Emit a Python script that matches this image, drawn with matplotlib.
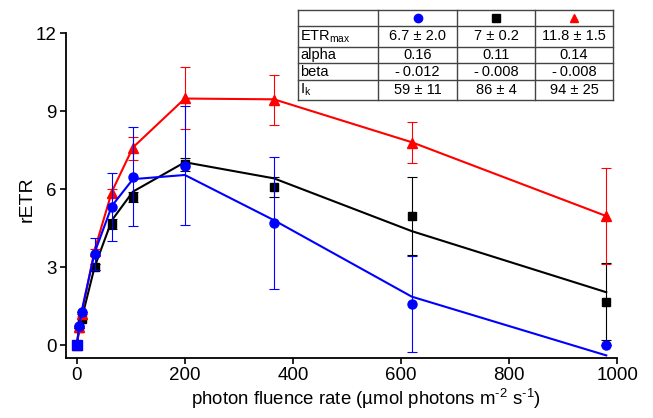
import numpy as np
import matplotlib
matplotlib.use('Agg')
import matplotlib.pyplot as plt

plt.rcParams['font.family'] = ['Liberation Sans', 'DejaVu Sans']
plt.rcParams['mathtext.fontset'] = 'custom'
plt.rcParams['mathtext.rm'] = 'Liberation Sans'
plt.rcParams['mathtext.it'] = 'Liberation Sans:italic'

# light levels (photon fluence rate)
x = [0, 4, 9, 33, 65, 104, 200, 365, 620, 980]

# measured rETR +/- sd
blue_y = [0, 0.73, 1.28, 3.5, 5.3, 6.48, 6.9, 4.7, 1.58, 0.0]
blue_err = [0, 0, 0, 0.6, 1.3, 1.9, 2.3, 2.54, 1.85, 0]
black_y = [0, 0.67, 0.99, 3.0, 4.65, 5.7, 6.95, 6.09, 4.97, 1.67]
black_err = [0, 0, 0, 0.1, 0.2, 0.2, 0.25, 0.38, 1.49, 1.47]
red_y = [0, 0.7, 1.2, 3.6, 5.86, 7.56, 9.49, 9.42, 7.78, 4.96]
red_err = [0, 0, 0, 0.1, 0.15, 0.43, 1.2, 0.97, 0.78, 1.86]

# fitted model curves at the same light levels
blue_fit = [0, 0.65, 1.3, 3.55, 5.35, 6.38, 6.54, 4.8, 1.86, -0.4]
black_fit = [0, 0.5, 1.0, 3.0, 4.8, 5.9, 7.03, 6.41, 4.38, 2.03]
red_fit = [0, 0.6, 1.2, 3.65, 5.9, 7.6, 9.48, 9.45, 7.8, 4.96]

# parameter table
row_labels = ['ETR$_{\\mathrm{max}}$', 'alpha', 'beta', 'I$_{\\mathrm{k}}$']
blue_par = ['6.7 \u00b1 2.0', '0.16', '-\u20090.012', '59 \u00b1 11']
black_par = ['7 \u00b1 0.2', '0.11', '-\u20090.008', '86 \u00b1 4']
red_par = ['11.8 \u00b1 1.5', '0.14', '-\u20090.008', '94 \u00b1 25']

BLUE = '#0000ff'
RED = '#ff0000'

fig = plt.figure(figsize=(6.53, 4.18), dpi=100)
ax = fig.add_axes([0.101, 0.1435, 0.844, 0.7775])

ax.plot(x, black_fit, color='k', lw=1.5, zorder=2)
ax.errorbar(x, black_y, yerr=black_err, fmt='none', ecolor='k', elinewidth=0.8,
            capsize=3.5, capthick=0.8, zorder=2)
ax.plot(x, black_y, 's', color='k', ms=6, zorder=3)

ax.plot(x, red_fit, color=RED, lw=1.5, zorder=4)
ax.errorbar(x, red_y, yerr=red_err, fmt='none', ecolor=RED, elinewidth=0.8,
            capsize=3.5, capthick=0.8, zorder=4)
ax.plot(x, red_y, '^', color=RED, ms=6.5, zorder=5)

ax.plot(x, blue_fit, color=BLUE, lw=1.5, zorder=6)
ax.errorbar(x, blue_y, yerr=blue_err, fmt='none', ecolor=BLUE, elinewidth=0.8,
            capsize=3.5, capthick=0.8, zorder=6)
ax.plot(x[1:], blue_y[1:], 'o', color=BLUE, ms=6.5, zorder=7)
ax.plot(x[:1], blue_y[:1], 's', color=BLUE, ms=6.5, zorder=7)

ax.set_xlim(-20, 1000)
ax.set_ylim(-0.5, 12)
ax.set_xticks([0, 200, 400, 600, 800, 1000])
ax.set_yticks([0, 3, 6, 9, 12])
for s in ['top', 'right']:
    ax.spines[s].set_visible(False)
for s in ['left', 'bottom']:
    ax.spines[s].set_linewidth(1.3)
ax.tick_params(direction='out', length=4.5, width=1.2, labelsize=13.5, pad=2)
ax.set_ylabel('rETR', fontsize=14)
ax.yaxis.set_label_coords(-0.055, 0.49)
ax.set_xlabel('photon fluence rate (\u00b5mol photons m$^{\\text{-2}}$ s$^{\\text{-1}}$)', fontsize=13.4)
ax.xaxis.set_label_coords(0.545, -0.09)

# table drawn in pixel-like coordinates
tx = fig.add_axes([298 / 653, 1 - 100 / 418, 315 / 653, 90 / 418])
tx.set_xlim(298, 613)
tx.set_ylim(100, 10)
tx.axis('off')
col_edges = [298, 378, 457, 535, 613]
row_edges = [10, 26, 47, 63, 80, 100]
for cx in col_edges:
    tx.plot([cx, cx], [10, 100], color='#444444', lw=1.0, clip_on=False)
for ry in row_edges:
    tx.plot([298, 613], [ry, ry], color='#444444', lw=1.0, clip_on=False)

hdr_y = (row_edges[0] + row_edges[1]) / 2
centers = [(col_edges[i] + col_edges[i + 1]) / 2 for i in range(1, 4)]
tx.plot(centers[0], hdr_y, 'o', color=BLUE, ms=6, clip_on=False)
tx.plot(centers[1], hdr_y, 's', color='k', ms=5.5, clip_on=False)
tx.plot(centers[2], hdr_y, '^', color=RED, ms=6, clip_on=False)

for i, lab in enumerate(row_labels):
    yc = (row_edges[i + 1] + row_edges[i + 2]) / 2
    tx.text(300, yc, lab, ha='left', va='center', fontsize=10.5)
    for cx, vals in zip(centers, [blue_par, black_par, red_par]):
        tx.text(cx, yc, vals[i], ha='center', va='center', fontsize=10.5)

fig.savefig('out.png', dpi=100)
